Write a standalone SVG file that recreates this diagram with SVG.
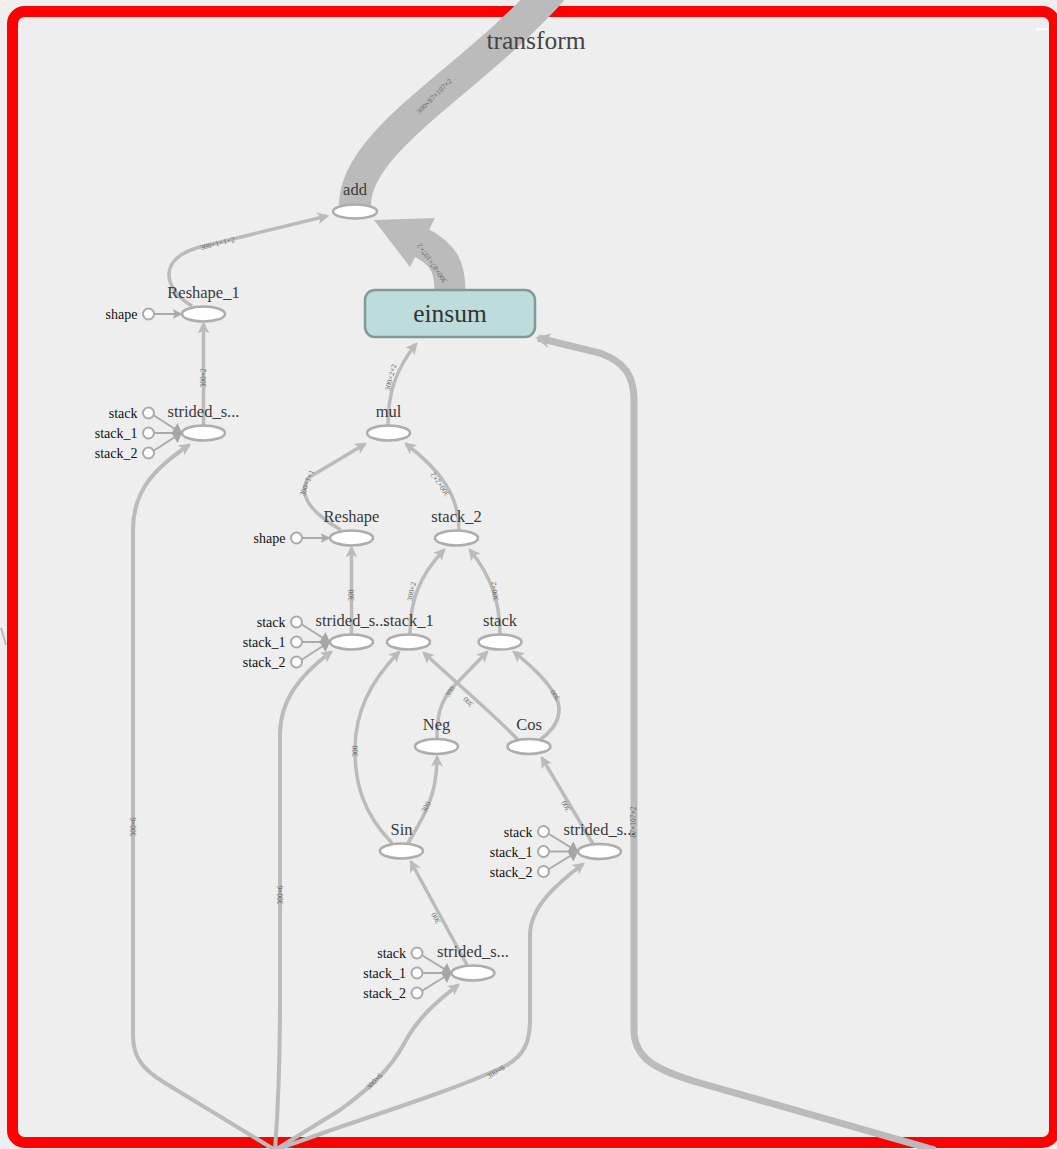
<svg xmlns="http://www.w3.org/2000/svg" width="1057" height="1149" viewBox="0 0 1057 1149">
  <style>
    text { font-family: "Liberation Serif", "Times New Roman", serif; }
    .e { fill: none; stroke: #bbbbbb; stroke-width: 3.5; }
    .e4 { fill: none; stroke: #bbbbbb; stroke-width: 4; }
    .lbl { font-size: 7.5px; fill: #666666; text-anchor: middle; }
    .n ellipse { fill: #ffffff; stroke: #adadad; stroke-width: 2.5; }
    .nl { font-size: 16.5px; fill: #3a3a3a; text-anchor: middle; }
    .in circle { fill: #ffffff; stroke: #aaaaaa; stroke-width: 2; }
    .in path { fill: none; stroke: #aaaaaa; stroke-width: 2; }
    .in polygon { fill: #a6a6a6; }
    .il { font-size: 14px; fill: #111111; text-anchor: end; }
  </style>
  <defs>
    <marker id="arr" viewBox="0 0 10 10" refX="8" refY="5" markerUnits="userSpaceOnUse" markerWidth="13" markerHeight="12" orient="auto">
      <path d="M0,0 L10,5 L0,10 L2.5,5 z" fill="#bbbbbb"/>
    </marker>
    <marker id="arrIn" viewBox="0 0 10 10" refX="8" refY="5" markerUnits="userSpaceOnUse" markerWidth="10" markerHeight="10" orient="auto">
      <path d="M0,0 L10,5 L0,10 L2.5,5 z" fill="#aaaaaa"/>
    </marker>
    <marker id="arrBig" viewBox="0 0 10 10" refX="8" refY="5" markerUnits="userSpaceOnUse" markerWidth="17" markerHeight="15" orient="auto">
      <path d="M0,0 L10,5 L0,10 L2.5,5 z" fill="#bbbbbb"/>
    </marker>
  </defs>

  <!-- canvas and frame -->
  <rect x="0" y="0" width="1057" height="1149" fill="#efefef"/>
  <rect x="12.5" y="11.5" width="1042" height="1131" rx="12" ry="12" fill="#eeeeee" stroke="#ff0000" stroke-width="11"/>
  <rect x="1036" y="28" width="12" height="2.5" fill="#ffffff"/>
  <path d="M1,628 L6,645" stroke="#bbbbbb" stroke-width="2" fill="none"/>

  <!-- edges -->
  <g id="connectors">
    <!-- transform -> add -->
    <path d="M552,-10 C472,80 355,140 355,205" fill="none" stroke="#bbbbbb" stroke-width="32"/>
    <text class="lbl" transform="translate(436,98) rotate(-45)">300×87×107×2</text>

    <!-- einsum -> add -->
    <path d="M450,292 C450,268 445,255 420,242" fill="none" stroke="#bbbbbb" stroke-width="31"/>
    <polygon points="374,220 435,218 410,267" fill="#bbbbbb"/>
    <text class="lbl" transform="translate(434,262) rotate(-125)">300×87×107×2</text>

    <!-- Reshape_1 -> add -->
    <path class="e" d="M192,306 C162,288 158,258 200,247 L327,216" marker-end="url(#arr)"/>
    <text class="lbl" transform="translate(218,246) rotate(-14)">300×1×1×2</text>

    <!-- strided_slice (left) -> Reshape_1 -->
    <path class="e" d="M203.5,425 L203.5,324" marker-end="url(#arr)"/>
    <text class="lbl" transform="translate(206,378) rotate(-90)">300×2</text>

    <!-- source -> strided_slice (left) -->
    <path class="e4" d="M275,1150 L165,1083 C140,1068 133,1055 133,1035 L133,530 C133,490 155,468 189,445" marker-end="url(#arr)"/>
    <text class="lbl" transform="translate(136,827) rotate(-90)">300×6</text>

    <!-- source -> strided_slice (middle) -->
    <path class="e4" d="M275,1150 C278,1110 280,1060 280,1000 L280,735 C280,700 300,675 331,652" marker-end="url(#arr)"/>
    <text class="lbl" transform="translate(283,895) rotate(-90)">300×6</text>

    <!-- source -> strided_slice (bottom) -->
    <path class="e4" d="M275,1150 L340,1110 C370,1088 390,1070 405,1042 C418,1018 435,1003 458,985" marker-end="url(#arr)"/>
    <text class="lbl" transform="translate(376,1083) rotate(-45)">300×6</text>

    <!-- source -> strided_slice (right) -->
    <path class="e4" d="M275,1150 L340,1127 C420,1100 470,1083 505,1066 C524,1056 530,1042 530,1020 L530,935 C530,908 555,885 583,864" marker-end="url(#arr)"/>
    <text class="lbl" transform="translate(497,1074) rotate(-32)">300×6</text>

    <!-- source -> einsum -->
    <path d="M935,1150 L700,1083 C655,1070 634,1058 634,1030 L634,400 C634,375 624,362 600,353 L538,338" fill="none" stroke="#bbbbbb" stroke-width="7" marker-end="url(#arrBig)"/>
    <text class="lbl" transform="translate(636,822) rotate(-90)">87×107×2</text>

    <!-- mul -> einsum -->
    <path class="e" d="M388,425 C388,395 395,370 416,344" marker-end="url(#arr)"/>
    <text class="lbl" transform="translate(393,378) rotate(-76)">300×2×2</text>

    <!-- Reshape -> mul -->
    <path class="e" d="M341,530 C310,512 298,495 308,478 L365,444" marker-end="url(#arr)"/>
    <text class="lbl" transform="translate(309,484) rotate(-68)">300×1×1</text>

    <!-- stack_2 -> mul -->
    <path class="e" d="M459,530 C459,495 440,470 406,444" marker-end="url(#arr)"/>
    <text class="lbl" transform="translate(442,483) rotate(-126)">300×2×2</text>

    <!-- stack_1 -> stack_2 -->
    <path class="e" d="M410,634 C410,600 420,575 444,550" marker-end="url(#arr)"/>
    <text class="lbl" transform="translate(414,592) rotate(-78)">300×2</text>

    <!-- stack -> stack_2 -->
    <path class="e" d="M500,634 C500,600 490,575 470,550" marker-end="url(#arr)"/>
    <text class="lbl" transform="translate(497,591) rotate(-97)">300×2</text>

    <!-- strided_slice (middle) -> Reshape -->
    <path class="e" d="M351.5,634 L351.5,548" marker-end="url(#arr)"/>
    <text class="lbl" transform="translate(354,595) rotate(-90)">300</text>

    <!-- Sin -> stack_1 -->
    <path class="e" d="M392,843 C362,812 355,782 355,750 C355,712 370,682 399,652" marker-end="url(#arr)"/>
    <text class="lbl" transform="translate(358,751) rotate(-90)">300</text>

    <!-- Sin -> Neg -->
    <path class="e" d="M408,843 C425,815 437,795 437,757" marker-end="url(#arr)"/>
    <text class="lbl" transform="translate(428,808) rotate(-62)">300</text>

    <!-- Neg -> stack -->
    <path class="e" d="M437,739 C437,715 440,705 450,690 L487,652" marker-end="url(#arr)"/>
    <text class="lbl" transform="translate(452,693) rotate(-55)">300</text>

    <!-- Cos -> stack_1 -->
    <path class="e" d="M518,740 C500,720 470,695 424,653" marker-end="url(#arr)"/>
    <text class="lbl" transform="translate(470,700) rotate(-137)">300</text>

    <!-- Cos -> stack -->
    <path class="e" d="M540,740 C560,725 563,710 555,695 C545,678 530,665 514,652" marker-end="url(#arr)"/>
    <text class="lbl" transform="translate(557,694) rotate(-125)">300</text>

    <!-- strided_slice (right) -> Cos -->
    <path class="e" d="M593,844 L542,758" marker-end="url(#arr)"/>
    <text class="lbl" transform="translate(568,805) rotate(-120)">300</text>

    <!-- strided_slice (bottom) -> Sin -->
    <path class="e" d="M467,965 L411,862" marker-end="url(#arr)"/>
    <text class="lbl" transform="translate(438,917) rotate(-119)">300</text>
  </g>

  <!-- title of the enclosing scope -->
  <text x="536" y="49" font-size="25.5" fill="#444444" text-anchor="middle">transform</text>

  <!-- nodes -->
  <g id="add" class="n">
    <ellipse cx="355" cy="211.5" rx="22" ry="7"/>
    <text class="nl" x="355" y="195">add</text>
  </g>

  <g id="einsum">
    <rect x="365" y="290" width="170" height="47" rx="10" ry="10" fill="#bddcdc" stroke="#809a9a" stroke-width="2.5"/>
    <text x="450" y="322" font-size="25.5" fill="#333333" text-anchor="middle">einsum</text>
  </g>

  <g id="Reshape_1" class="n" transform="translate(203.5,314)">
    <ellipse cx="0" cy="0" rx="21.5" ry="7.5"/>
    <text class="nl" x="0" y="-16.5">Reshape_1</text>
    <g class="in">
      <circle cx="-55" cy="0" r="5.5"/>
      <path d="M-49.5,0 L-23,0" marker-end="url(#arrIn)"/>
      <text class="il" x="-66" y="4.5">shape</text>
    </g>
  </g>

  <g id="strided_slice_2" class="n" transform="translate(203.5,433)">
    <ellipse cx="0" cy="0" rx="21.5" ry="7.5"/>
    <text class="nl" x="0" y="-16.5">strided_s...</text>
    <g class="in">
      <path d="M-49.5,-17.5 L-27,-3 M-49.5,0 L-27,0 M-49.5,17.5 L-27,3"/>
      <polygon points="-32,0 -26,-10 -21.5,0 -26,10"/>
      <circle cx="-55" cy="-20" r="5.5"/>
      <circle cx="-55" cy="0" r="5.5"/>
      <circle cx="-55" cy="20" r="5.5"/>
      <text class="il" x="-66" y="-15">stack</text>
      <text class="il" x="-66" y="5">stack_1</text>
      <text class="il" x="-66" y="25">stack_2</text>
    </g>
  </g>

  <g id="mul" class="n">
    <ellipse cx="388.5" cy="433" rx="21.5" ry="7.5"/>
    <text class="nl" x="388.5" y="416.5">mul</text>
  </g>

  <g id="Reshape" class="n" transform="translate(351.5,538)">
    <ellipse cx="0" cy="0" rx="21.5" ry="7.5"/>
    <text class="nl" x="0" y="-16.5">Reshape</text>
    <g class="in">
      <circle cx="-55" cy="0" r="5.5"/>
      <path d="M-49.5,0 L-23,0" marker-end="url(#arrIn)"/>
      <text class="il" x="-66" y="4.5">shape</text>
    </g>
  </g>

  <g id="stack_2" class="n">
    <ellipse cx="456.5" cy="538" rx="21.5" ry="7.5"/>
    <text class="nl" x="456.5" y="521.5">stack_2</text>
  </g>

  <g id="strided_slice" class="n" transform="translate(351.5,642)">
    <ellipse cx="0" cy="0" rx="21.5" ry="7.5"/>
    <text class="nl" x="0" y="-16.5">strided_s...</text>
    <g class="in">
      <path d="M-49.5,-17.5 L-27,-3 M-49.5,0 L-27,0 M-49.5,17.5 L-27,3"/>
      <polygon points="-32,0 -26,-10 -21.5,0 -26,10"/>
      <circle cx="-55" cy="-20" r="5.5"/>
      <circle cx="-55" cy="0" r="5.5"/>
      <circle cx="-55" cy="20" r="5.5"/>
      <text class="il" x="-66" y="-15">stack</text>
      <text class="il" x="-66" y="5">stack_1</text>
      <text class="il" x="-66" y="25">stack_2</text>
    </g>
  </g>

  <g id="stack_1" class="n">
    <ellipse cx="408.5" cy="642" rx="21.5" ry="7.5"/>
    <text class="nl" x="408.5" y="625.5">stack_1</text>
  </g>

  <g id="stack" class="n">
    <ellipse cx="500" cy="642" rx="21.5" ry="7.5"/>
    <text class="nl" x="500" y="625.5">stack</text>
  </g>

  <g id="Neg" class="n">
    <ellipse cx="436.5" cy="746.5" rx="21.5" ry="7.5"/>
    <text class="nl" x="436.5" y="730">Neg</text>
  </g>

  <g id="Cos" class="n">
    <ellipse cx="529" cy="746.5" rx="21.5" ry="7.5"/>
    <text class="nl" x="529" y="730">Cos</text>
  </g>

  <g id="Sin" class="n">
    <ellipse cx="401.5" cy="851" rx="21.5" ry="7.5"/>
    <text class="nl" x="401.5" y="834.5">Sin</text>
  </g>

  <g id="strided_slice_1" class="n" transform="translate(599.5,851.5)">
    <ellipse cx="0" cy="0" rx="21.5" ry="7.5"/>
    <text class="nl" x="0" y="-16.5">strided_s...</text>
    <g class="in">
      <path d="M-50.5,-17.5 L-27,-3 M-50.5,0 L-27,0 M-50.5,17.5 L-27,3"/>
      <polygon points="-32,0 -26,-10 -21.5,0 -26,10"/>
      <circle cx="-56" cy="-20" r="5.5"/>
      <circle cx="-56" cy="0" r="5.5"/>
      <circle cx="-56" cy="20" r="5.5"/>
      <text class="il" x="-67" y="-15">stack</text>
      <text class="il" x="-67" y="5">stack_1</text>
      <text class="il" x="-67" y="25">stack_2</text>
    </g>
  </g>

  <g id="strided_slice_3" class="n" transform="translate(473,973)">
    <ellipse cx="0" cy="0" rx="21.5" ry="7.5"/>
    <text class="nl" x="0" y="-16.5">strided_s...</text>
    <g class="in">
      <path d="M-50.5,-17.5 L-27,-3 M-50.5,0 L-27,0 M-50.5,17.5 L-27,3"/>
      <polygon points="-32,0 -26,-10 -21.5,0 -26,10"/>
      <circle cx="-56" cy="-20" r="5.5"/>
      <circle cx="-56" cy="0" r="5.5"/>
      <circle cx="-56" cy="20" r="5.5"/>
      <text class="il" x="-67" y="-15">stack</text>
      <text class="il" x="-67" y="5">stack_1</text>
      <text class="il" x="-67" y="25">stack_2</text>
    </g>
  </g>
</svg>
